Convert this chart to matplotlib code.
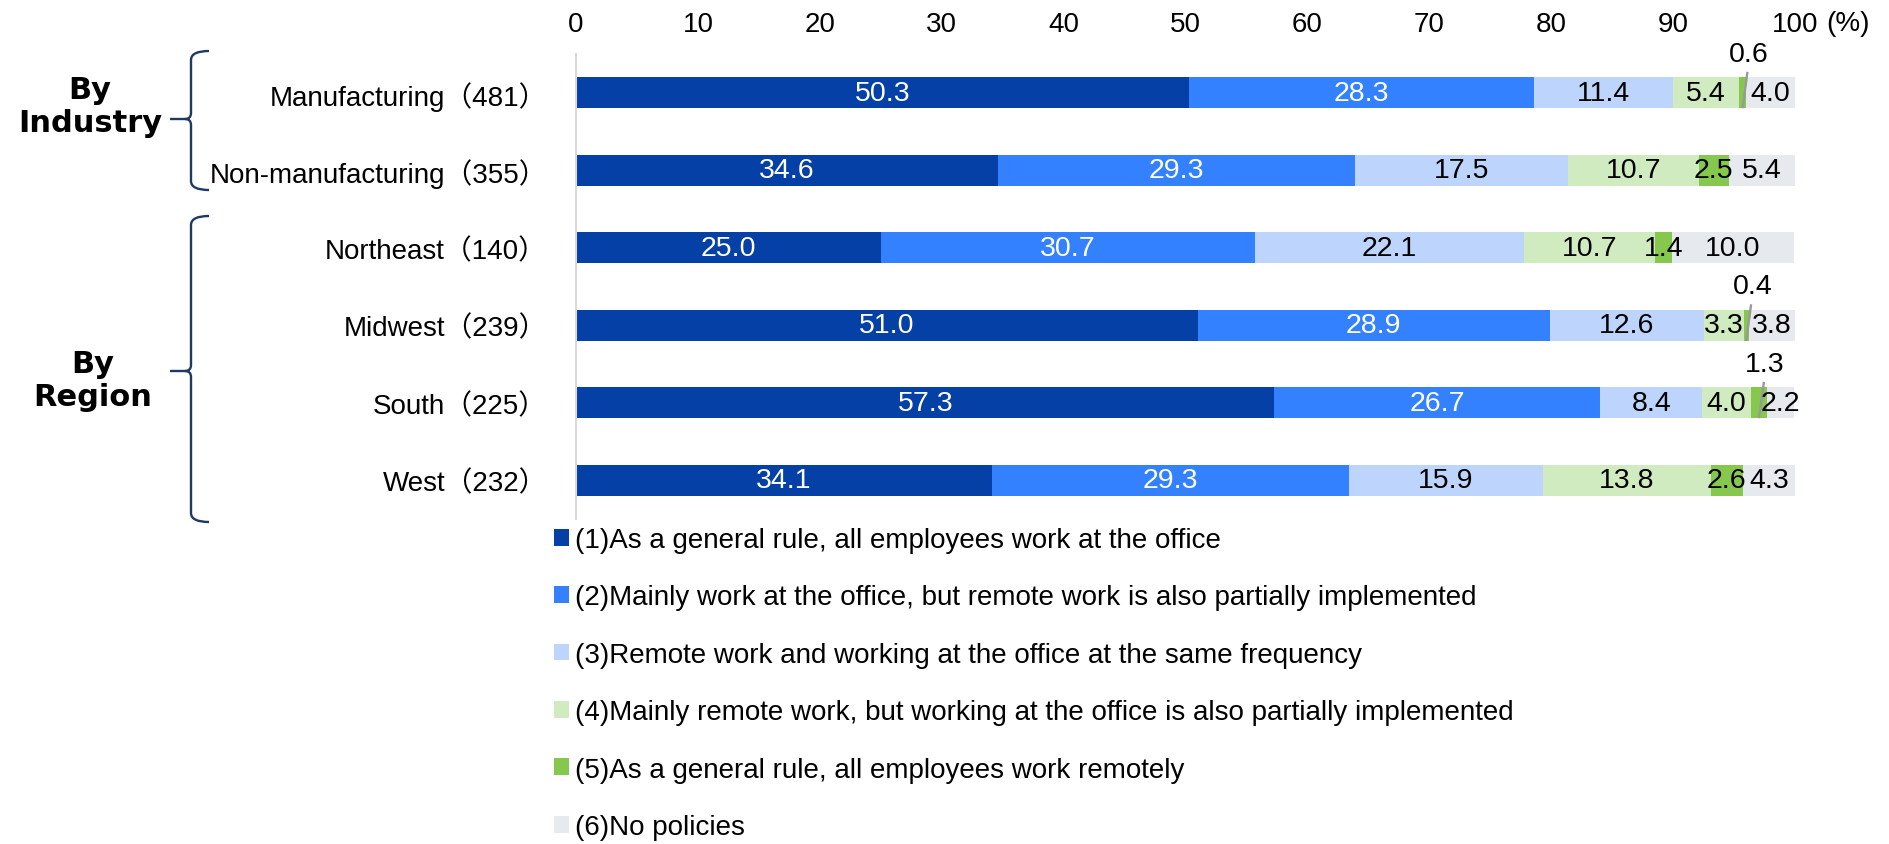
import numpy as np
import matplotlib.pyplot as plt
from matplotlib.patches import Patch, PathPatch
from matplotlib.path import Path

plt.rcParams['font.family'] = ['Liberation Sans', 'Noto Sans CJK JP', 'DejaVu Sans']

categories = ["Manufacturing（481）", "Non-manufacturing（355）", "Northeast（140）",
              "Midwest（239）", "South（225）", "West（232）"]
series_names = [
    "(1)As a general rule, all employees work at the office",
    "(2)Mainly work at the office, but remote work is also partially implemented",
    "(3)Remote work and working at the office at the same frequency",
    "(4)Mainly remote work, but working at the office is also partially implemented",
    "(5)As a general rule, all employees work remotely",
    "(6)No policies",
]
s1 = [50.3, 34.6, 25.0, 51.0, 57.3, 34.1]
s2 = [28.3, 29.3, 30.7, 28.9, 26.7, 29.3]
s3 = [11.4, 17.5, 22.1, 12.6, 8.4, 15.9]
s4 = [5.4, 10.7, 10.7, 3.3, 4.0, 13.8]
s5 = [0.6, 2.5, 1.4, 0.4, 1.3, 2.6]
s6 = [4.0, 5.4, 10.0, 3.8, 2.2, 4.3]
series = [s1, s2, s3, s4, s5, s6]

colors = ["#0540A6", "#3381FF", "#BDD5FC", "#D0EBBF", "#86C84E", "#E6E9EE"]
text_colors = ["white", "white", "black", "black", "black", "black"]
# (row, series) of labels drawn above the bar with a leader line
leader = {(0, 4), (3, 4), (4, 4)}

W, H = 1890, 845
fig = plt.figure(figsize=(W / 100, H / 100), dpi=100)
ax = fig.add_axes([576 / W, 1 - 520 / H, 1219 / W, 465 / H])

y = np.arange(len(categories))
left = np.zeros(len(categories))
for k, (vals, col, tc) in enumerate(zip(series, colors, text_colors)):
    vals = np.array(vals)
    ax.barh(y, vals, left=left, height=0.4, color=col, edgecolor='none')
    for i, v in enumerate(vals):
        cx = left[i] + v / 2
        if (i, k) in leader:
            ax.text(cx + 0.5, y[i] - 0.5, f"{v:.1f}", ha='center', va='center',
                    fontsize=20.5, color='black')
            ax.plot([cx, cx + 0.4], [y[i] + 0.2, y[i] - 0.27], color='#999999',
                    lw=1.7, zorder=3, solid_capstyle='butt')
        else:
            ax.text(cx, y[i], f"{v:.1f}", ha='center', va='center',
                    fontsize=20.5, color=tc)
    left += vals

ax.set_xlim(0, 100)
ax.set_ylim(len(categories) - 0.5, -0.5)
ax.set_yticks(y)
ax.set_yticklabels(categories, fontsize=20)
ax.set_xticks(np.arange(0, 101, 10))
ax.xaxis.tick_top()
ax.tick_params(axis='x', length=0, labelsize=20, pad=12)
ax.tick_params(axis='y', length=0, pad=21)
for s in ['top', 'right', 'bottom']:
    ax.spines[s].set_visible(False)
ax.spines['left'].set_color('#D9D9D9')
ax.spines['left'].set_linewidth(1.5)

handles = [Patch(facecolor=c, edgecolor='none') for c in colors]
fig.legend(handles, series_names, loc='upper left',
           bbox_to_anchor=(543 / W, 1 - 517 / H),
           frameon=False, fontsize=20, handlelength=0.55, handleheight=0.55,
           handletextpad=0.2, labelspacing=1.13, borderaxespad=0)

# overlay in pixel coordinates for braces and group titles
ov = fig.add_axes([0, 0, 1, 1])
ov.set_xlim(0, W)
ov.set_ylim(H, 0)
ov.axis('off')


def brace(x, top, bottom, mid, w=18, tip=21):
    verts = [(x + w, top), (x, top), (x, top + 9),
             (x, mid - 6), (x, mid), (x - 6, mid),
             (x - tip, mid),
             (x - 6, mid), (x, mid), (x, mid + 6),
             (x, bottom - 9), (x, bottom), (x + w, bottom)]
    codes = [Path.MOVETO, Path.CURVE3, Path.CURVE3,
             Path.LINETO, Path.CURVE3, Path.CURVE3,
             Path.LINETO,
             Path.MOVETO, Path.CURVE3, Path.CURVE3,
             Path.LINETO, Path.CURVE3, Path.CURVE3]
    ov.add_patch(PathPatch(Path(verts, codes), fill=False, edgecolor='#1F3864', lw=1.7))


brace(191, 52, 191, 120)
brace(191, 217, 523, 372)
ov.text(90, 107, "By\nIndustry", ha='center', va='center', fontsize=22,
        fontweight='bold', family='DejaVu Sans', linespacing=1.15)
ov.text(93, 381, "By\nRegion", ha='center', va='center', fontsize=22,
        fontweight='bold', family='DejaVu Sans', linespacing=1.2)
ov.text(1826, 24, "(%)", ha='left', va='center', fontsize=20)

fig.savefig("out.png", dpi=100)
